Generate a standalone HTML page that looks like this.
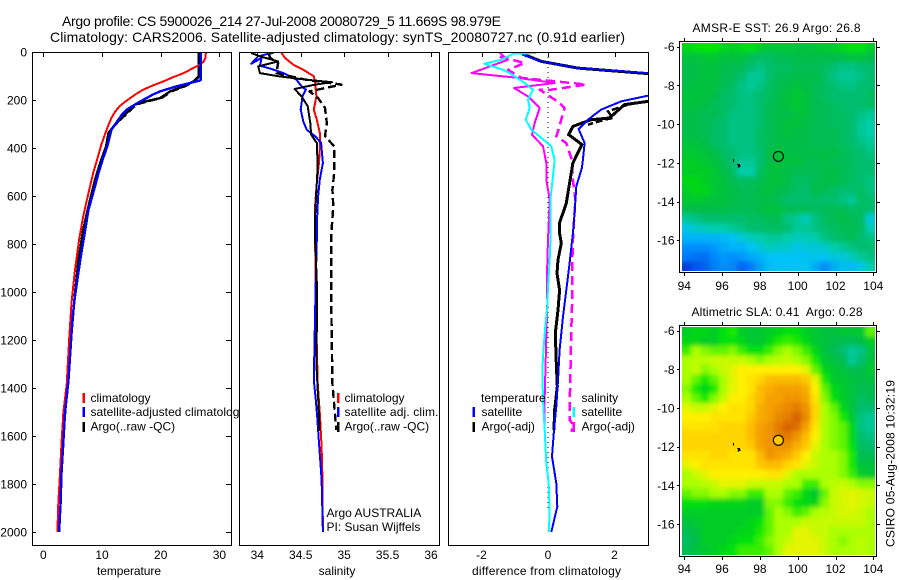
<!DOCTYPE html>
<html>
<head>
<meta charset="utf-8">
<title>Argo profile</title>
<style>
html,body{margin:0;padding:0;background:#fff;}
svg{display:block;}
text{font-family:"Liberation Sans",sans-serif;font-size:12px;fill:#000;}
.title{font-size:14px;}
</style>
</head>
<body>
<svg id="fig" xmlns="http://www.w3.org/2000/svg" width="900" height="580" viewBox="0 0 900 580">
<defs>
<clipPath id="clip-t"><rect x="33" y="53" width="198" height="492"/></clipPath>
<clipPath id="clip-s"><rect x="240" y="53" width="199" height="492"/></clipPath>
<clipPath id="clip-d"><rect x="449" y="53" width="199" height="492"/></clipPath>
<clipPath id="clip-map-sst"><rect x="682" y="43" width="193" height="228"/></clipPath>
<clipPath id="clip-map-sla"><rect x="682" y="327" width="193" height="228"/></clipPath>
<filter id="map-smooth" filterUnits="userSpaceOnUse" x="640" y="0" width="260" height="580"><feGaussianBlur stdDeviation="2.5"/></filter>
</defs>
<rect x="0" y="0" width="900" height="580" fill="#fff"/>
<text class="title" x="62" y="26" textLength="439">Argo profile: CS 5900026_214 27-Jul-2008 20080729_5 11.669S 98.979E</text>
<text class="title" x="50" y="42" textLength="575">Climatology: CARS2006. Satellite-adjusted climatology: synTS_20080727.nc (0.91d earlier)</text>

<g id="panel-t">
<rect x="32.5" y="52.5" width="199" height="493" fill="#fff"/>
<g id="marks-t" clip-path="url(#clip-t)"></g>
<rect x="32.5" y="52.5" width="199" height="493" fill="none" stroke="#000" shape-rendering="crispEdges"/>
<g id="ticks-t"></g>
<text x="129" y="575" text-anchor="middle" textLength="64">temperature</text>
<rect x="82.5" y="393" width="2.5" height="10" fill="#f00"/>
<rect x="82.5" y="407" width="2.5" height="10" fill="#00f"/>
<rect x="82.5" y="422" width="2.5" height="10" fill="#000"/>
<text x="90.5" y="402">climatology</text>
<text x="90.5" y="416" textLength="155">satellite-adjusted climatology</text>
<text x="90.5" y="430.5">Argo(..raw -QC)</text>
</g>

<g id="panel-s">
<rect x="239.5" y="52.5" width="200" height="493" fill="#fff"/>
<g id="marks-s" clip-path="url(#clip-s)"></g>
<rect x="239.5" y="52.5" width="200" height="493" fill="none" stroke="#000" shape-rendering="crispEdges"/>
<g id="ticks-s"></g>
<text x="337" y="575" text-anchor="middle">salinity</text>
<rect x="337" y="393" width="2.5" height="10" fill="#f00"/>
<rect x="337" y="407" width="2.5" height="10" fill="#00f"/>
<rect x="337" y="422" width="2.5" height="10" fill="#000"/>
<text x="344.5" y="402">climatology</text>
<text x="344.5" y="416" textLength="94">satellite adj. clim.</text>
<text x="344.5" y="430.5">Argo(..raw -QC)</text>
<text x="326.5" y="517">Argo AUSTRALIA</text>
<text x="326.5" y="531">PI: Susan Wijffels</text>
</g>

<g id="panel-d">
<rect x="448.5" y="52.5" width="200" height="493" fill="#fff"/>
<g id="marks-d" clip-path="url(#clip-d)"></g>
<rect x="448.5" y="52.5" width="200" height="493" fill="none" stroke="#000" shape-rendering="crispEdges"/>
<g id="ticks-d"></g>
<text x="546.5" y="575" text-anchor="middle" textLength="149">difference from climatology</text>
<text x="481" y="402">temperature</text>
<rect x="472.5" y="407" width="2.5" height="10" fill="#00f"/>
<rect x="472.5" y="422" width="2.5" height="10" fill="#000"/>
<text x="481.5" y="416">satellite</text>
<text x="481.5" y="430.5">Argo(-adj)</text>
<text x="581.5" y="402">salinity</text>
<rect x="572.5" y="407" width="2.5" height="10" fill="#0ff"/>
<rect x="572.5" y="422" width="2.5" height="10" fill="#f0f"/>
<text x="581.5" y="416">satellite</text>
<text x="581.5" y="430.5">Argo(-adj)</text>
</g>

<g id="map-sst"></g>
<text x="692.5" y="32" textLength="168">AMSR-E SST: 26.9 Argo: 26.8</text>
<g id="map-sla"></g>
<text x="691.5" y="316" textLength="171" xml:space="preserve">Altimetric SLA: 0.41  Argo: 0.28</text>
<text x="0" y="0" transform="translate(894.5,547) rotate(-90)" textLength="167">CSIRO 05-Aug-2008 10:32:19</text>
</svg>

<script>
// ---- tick labels ----
const depthTicks = [0,200,400,600,800,1000,1200,1400,1600,1800,2000];
const tempTicks = [0,10,20,30];
const salTicks = [34,34.5,35,35.5,36];
const diffTicks = [-2,0,2];
const lonTicks = [94,96,98,100,102,104];
const latTicks = [-6,-8,-10,-12,-14,-16];

// ---- temperature panel ----
const tempClimDepth = [4,25,40,53,70,88,105,122,140,157,175,192,210,226,250,275,310,344,385,428,504,587,685,782,907,1046,1200,1380,1505,1630,1755,1880,2000];
const tempClimValue = [27.7,27.6,27.3,26.7,25.3,23.9,22.1,20.5,18.6,17,15.8,14.8,13.8,13,12.2,11.6,11,10.5,9.9,9.4,8.5,7.7,6.8,6.1,5.4,4.8,4.4,4.0,3.4,3.1,2.85,2.55,2.4];
const tempSatDepth = [0,118,129,143,164,178,192,205,219,240,260,282,324,393,449,505,560,657,747,865,1018,1101,1367,1505,1630,1755,1880,2000];
const tempSatValue = [26.8,26.8,25,22.7,19.9,18.6,17.6,16.6,15.6,14.2,13.4,12.8,11.6,10.9,10.1,9.4,8.8,7.7,7.1,6.3,5.4,5.0,4.3,3.7,3.4,3.1,2.95,2.7];
const tempArgoDepth = [4,101,122,143,164,192,205,219,268,303,337,393,462,532,643,740,865,1004,1200,1410,1580];
const tempArgoValue = [26.5,26.5,25.6,23.9,21.6,19.9,17.6,15.6,13.6,12.2,11.1,10.7,9.7,8.8,7.7,6.8,6,5.4,4.7,4,3.5];
const tempArgoRawValue = [26.6,26.6,25.8,24.2,21.9,20.2,18,15.9,13.8,12.3,11.2,10.8,9.8,8.9,7.8,6.9,6.1,5.4,4.7,4,3.5];

// ---- salinity panel ----
const salClimDepth = [4,25,53,74,101,129,185,240,282,337,407,462,546,643,726,1000,1380,1505,1644,1770,2000];
const salClimValue = [34.28,34.32,34.415,34.53,34.65,34.665,34.68,34.65,34.685,34.72,34.72,34.71,34.685,34.665,34.665,34.67,34.695,34.72,34.74,34.75,34.755];
const salSatDepth = [4,7,18,49,25,57,71,88,115,143,157,185,240,289,324,351,379,462,532,601,685,782,1000,1367,1436,1519,1630,1727,1783,2000];
const salSatValue = [34.185,34.13,34.01,33.93,34.05,34.03,34.165,34.3,34.45,34.51,34.56,34.52,34.5,34.53,34.57,34.665,34.735,34.755,34.72,34.7,34.69,34.685,34.67,34.65,34.67,34.69,34.71,34.73,34.74,34.755];
const salArgoDepth = [4,18,39,60,88,101,115,126,136,154,185,226,296,344,379,476,574,685,782,1000,1300,1580];
const salArgoValue = [33.93,34.03,34.24,34.01,34.03,34.24,34.55,34.86,34.665,34.43,34.51,34.58,34.61,34.62,34.685,34.695,34.68,34.665,34.665,34.69,34.68,34.72];
const salRawDepth = [7,25,46,88,115,136,164,192,233,296,351,393,504,574,643,768,1000,1380,1491,1575];
const salRawValue = [34.13,34.15,34.24,34.22,34.55,34.97,34.6,34.7,34.78,34.8,34.78,34.885,34.885,34.865,34.875,34.85,34.85,34.865,34.89,34.91];

// ---- difference panel ----
const diffTempSatDepth = [11,39,67,88,130,182,206,240,282,321,379,449,483,560,671,755,880,992,1103,1242,1367,1478,1575,1686,1797,1894,2000];
const diffTempSatValue = [-0.78,-0.2,0.9,3,6,3,2.2,1.6,1.2,0.92,1.1,1.05,1.02,0.85,0.8,0.75,0.65,0.55,0.45,0.35,0.3,0.25,0.18,0.12,0.25,0.28,0.1];
const diffTempArgoDepth = [7,39,67,90,130,206,219,275,282,310,344,386,462,546,629,712,755,797,866,922,992,1075,1172,1297,1394,1492,1575];
const diffTempArgoValue = [-0.78,-0.2,0.9,3,6,3,2.3,1.85,1.3,0.75,0.62,1.02,0.75,0.65,0.55,0.35,0.35,0.4,0.3,0.27,0.35,0.3,0.22,0.25,0.28,0.2,0.18];
const diffRawDepth = [206,219,233,247,275,282,303];
const diffRawValue = [3,2.4,2.1,1.8,1.95,1.7,1.2];
const diffSalArgoDepth = [4,32,88,108,129,150,185,233,296,344,393,462,532,615,782,922,1047,1186,1283,1436,1575];
const diffSalArgoValue = [-1.45,-1.2,-2.3,-0.9,0.2,-1.02,-0.6,-0.25,-0.4,-0.48,-0.15,-0.05,-0.05,0.05,0,-0.03,-0.02,-0.05,-0.07,-0.1,-0.1];
const diffSalRawDepth = [20,46,74,108,129,136,157,157,212,233,330,351,379,449,532,615,782,880,1019,1158,1297,1436,1533,1554,1582];
const diffSalRawValue = [-1.45,-0.7,-1.2,-0.8,0.7,1.15,0.1,-0.25,0.35,0.5,0.3,0.25,0.55,0.72,0.75,0.82,0.75,0.73,0.73,0.7,0.68,0.66,0.65,0.77,0.7];
const diffSalSatDepth = [4,7,32,49,74,88,129,157,199,233,282,324,358,393,449,518,601,755,866,977,1061,1144,1228,1325,1450,1575,1714,1797,1922,2000];
const diffSalSatValue = [-0.35,-1.05,-1.4,-1.92,-1.35,-1.15,-0.7,-0.45,-0.6,-0.55,-0.67,-0.5,-0.2,0.1,0.2,0.15,0.08,0.08,0.05,0,-0.02,-0.08,-0.13,-0.17,-0.15,-0.1,-0.05,0.02,0.05,0.02];
const diffZeroDepth = [0,1900];
const diffZeroValue = [0,0];

// ---- map fields (colour-scale level per cell, rows north to south) ----
const sstField = [
[60,62,63,63,60,58,60,62,58,55,55,55,54,54,55,56,58,60,62,62,58],
[54,54,56,56,54,54,54,50,48,48,50,50,52,52,52,52,52,52,54,54,52],
[52,52,54,54,52,50,50,46,44,46,48,48,50,50,50,48,46,44,44,46,46],
[52,52,54,54,50,50,46,42,42,46,50,50,52,52,52,48,44,42,42,44,46],
[52,54,54,54,50,48,44,42,44,48,50,52,54,52,50,48,46,44,44,46,46],
[54,54,54,52,48,46,44,44,46,48,52,54,56,54,50,48,46,46,46,46,48],
[54,54,52,50,48,46,44,44,46,50,52,54,56,54,50,50,48,46,46,46,48],
[52,52,50,50,48,44,44,44,46,50,52,52,54,54,50,50,48,48,46,44,42],
[52,52,50,48,46,44,44,44,46,50,52,54,54,52,50,50,48,48,46,42,40],
[52,52,50,48,46,44,44,44,48,50,52,54,52,52,50,50,50,48,46,42,40],
[54,54,52,48,46,44,44,44,48,50,52,52,52,52,50,50,50,48,46,44,42],
[56,56,54,52,48,46,44,44,46,52,54,52,52,52,52,52,52,50,48,46,44],
[58,58,56,54,50,46,42,42,46,52,54,54,54,52,50,52,50,50,48,46,46],
[58,58,58,56,52,48,40,40,48,54,54,52,50,50,50,52,52,50,48,46,46],
[60,60,58,56,54,50,48,48,50,54,54,52,48,48,50,52,52,50,48,46,44],
[58,60,60,56,54,52,50,50,52,54,52,50,48,46,52,50,48,46,46,48,44],
[56,56,56,54,54,52,50,50,52,52,50,46,46,46,48,46,46,44,42,48,46],
[52,52,52,52,52,50,50,50,52,54,54,50,50,50,48,50,50,50,48,48,46],
[42,44,46,46,46,46,46,48,48,50,50,44,42,38,44,48,50,52,50,48,34],
[32,36,38,40,40,42,44,46,46,48,48,46,42,42,44,46,48,50,50,48,38],
[26,26,26,26,28,30,34,38,40,42,42,40,38,38,40,44,46,48,50,46,44],
[18,18,18,20,24,26,26,30,34,38,36,36,32,34,34,36,40,42,44,46,46],
[14,12,12,16,20,18,20,24,26,30,30,30,30,30,32,30,34,34,38,42,44],
[4,8,10,14,18,16,10,14,22,28,30,30,30,30,24,18,24,28,28,32,40]
];
const slaField = [
[58,60,60,58,62,64,58,56,56,58,60,62,62,58,56,54,54,56,56,56,68],
[60,60,58,58,62,62,60,56,56,60,64,66,64,60,56,54,52,50,50,52,58],
[66,72,70,68,68,70,66,62,62,66,70,72,70,66,60,54,50,46,42,44,54],
[72,73,73,74,74,74,74,72,70,72,73,74,72,70,64,56,54,50,42,46,54],
[72,74,70,72,74,76,78,78,78,78,78,78,78,76,68,60,56,54,50,52,56],
[72,68,64,68,72,76,78,80,82,86,86,86,86,84,76,64,57,56,54,52,54],
[70,64,60,64,72,76,78,80,86,88,90,90,90,88,78,68,60,57,54,50,52],
[72,68,64,70,74,78,78,82,86,90,90,92,92,90,80,70,62,58,54,48,50],
[76,74,74,76,78,80,80,82,88,90,92,94,96,92,82,72,68,60,54,46,46],
[78,78,78,80,80,80,80,84,88,90,94,96,100,94,82,72,70,64,56,44,42],
[80,80,80,80,82,82,82,86,90,92,96,100,98,90,80,72,70,68,60,44,42],
[82,82,82,82,82,82,82,86,90,92,96,96,92,86,78,72,70,68,60,46,44],
[82,82,82,82,82,82,82,84,90,92,92,92,88,84,76,72,70,68,62,48,46],
[80,80,80,82,82,80,80,80,86,92,90,88,84,78,74,72,72,70,64,50,50],
[76,78,80,80,80,80,80,80,84,86,86,82,80,76,74,72,72,70,64,54,54],
[72,74,76,78,78,78,78,78,78,80,80,76,72,72,72,72,72,70,66,58,56],
[72,72,73,74,76,76,76,74,74,74,74,72,72,66,66,72,73,74,72,70,70],
[68,70,70,72,72,70,70,66,66,72,72,68,66,60,56,68,74,75,76,75,74],
[62,62,62,60,60,60,60,58,58,70,70,66,62,60,60,70,74,75,76,75,74],
[58,58,58,58,58,58,58,58,58,68,72,70,66,68,72,73,74,75,75,74,72],
[54,56,58,58,58,58,58,60,62,68,72,72,72,74,74,74,74,74,74,74,72],
[50,54,58,58,58,58,60,60,64,68,72,72,76,76,74,74,72,72,72,72,72],
[48,52,58,58,58,60,62,62,66,70,72,74,76,76,76,74,72,70,72,73,72],
[50,54,56,58,60,62,66,66,66,68,72,76,76,76,76,74,72,72,72,73,72]
];
const floatLon = [98.979];
const floatLat = [-11.669];
const floatSlaLevel = [84];
const islandALon = [96.6,96.6];
const islandALat = [-11.8,-11.95];
const islandBLon = [96.8,96.92,96.95,96.85,96.9];
const islandBLat = [-12.08,-12.1,-12.2,-12.22,-12.12];

// ---- scales ----
const NS = 'http://www.w3.org/2000/svg';
const yDepth = d => 52 + d * 0.24;
const xTemp = v => 43.3 + v * 5.87;
const xSal = v => 257.3 + (v - 34) * 86.85;
const xDiff = v => 548 + v * 33.25;
const xLon = v => 684.3 + (v - 94) * 18.9;
const ySst = v => 46.7 + (-6 - v) * 19.35;
const ySla = v => 330.7 + (-6 - v) * 19.33;

function make(tag, parent, attrs, text) {
  const el = document.createElementNS(NS, tag);
  for (const k in attrs) el.setAttribute(k, attrs[k]);
  if (text !== undefined) el.textContent = text;
  parent.appendChild(el);
  return el;
}
function seriesLine(parent, depth, value, xf, color, width, dash) {
  const pts = depth.map((d, i) => xf(value[i]).toFixed(1) + ',' + yDepth(d).toFixed(1)).join(' ');
  const attrs = {points: pts, fill: 'none', stroke: color, 'stroke-width': width, 'shape-rendering': 'crispEdges', 'stroke-linejoin': 'round'};
  if (dash) attrs['stroke-dasharray'] = dash;
  return make('polyline', parent, attrs);
}
function addLine(parent, x1, y1, x2, y2) {
  return make('line', parent, {x1: x1, y1: y1, x2: x2, y2: y2, stroke: '#000', 'shape-rendering': 'crispEdges'});
}

// ---- temperature series ----
const gT = document.getElementById('marks-t');
let el = seriesLine(gT, tempArgoDepth, tempArgoRawValue, xTemp, '#000', 2, '8 4');


el = seriesLine(gT, tempArgoDepth, tempArgoValue, xTemp, '#000', 2.4);


el = seriesLine(gT, tempClimDepth, tempClimValue, xTemp, '#f00', 2);


el = seriesLine(gT, tempSatDepth, tempSatValue, xTemp, '#00f', 2.4);



// ---- salinity series ----
const gS = document.getElementById('marks-s');
el = seriesLine(gS, salClimDepth, salClimValue, xSal, '#f00', 2);


el = seriesLine(gS, salSatDepth, salSatValue, xSal, '#00f', 2);


el = seriesLine(gS, salArgoDepth, salArgoValue, xSal, '#000', 2);


el = seriesLine(gS, salRawDepth, salRawValue, xSal, '#000', 2.4, '8 4');



// ---- difference series ----
const gD = document.getElementById('marks-d');
el = seriesLine(gD, diffZeroDepth, diffZeroValue, xDiff, '#000', 1, '1 4');


el = seriesLine(gD, diffSalArgoDepth, diffSalArgoValue, xDiff, '#f0f', 2);


el = seriesLine(gD, diffSalRawDepth, diffSalRawValue, xDiff, '#f0f', 2.5, '9 5');


el = seriesLine(gD, diffTempArgoDepth, diffTempArgoValue, xDiff, '#000', 3);


el = seriesLine(gD, diffRawDepth, diffRawValue, xDiff, '#000', 2.5, '7 3');


el = seriesLine(gD, diffTempSatDepth, diffTempSatValue, xDiff, '#00f', 2);


el = seriesLine(gD, diffSalSatDepth, diffSalSatValue, xDiff, '#0ff', 2);



// ---- profile axes ticks ----
const tT = document.getElementById('ticks-t');
depthTicks.forEach(d => {
  const y = Math.round(yDepth(d)) + 0.5;
  let t = addLine(tT, 226, y, 231, y);
  
  
  t = addLine(tT, 33, y, 36, y);
  
  
  t = make('text', tT, {x: 27, y: yDepth(d) + 4.5, 'text-anchor': 'end'}, String(d));
  
  
});
function xAxisTicks(id, ticks, xf) {
  const g = document.getElementById(id);
  ticks.forEach(v => {
    const x = Math.round(xf(v)) + 0.5;
    let t = addLine(g, x, 53, x, 57);
    
    
    t = make('text', g, {x: xf(v), y: 559, 'text-anchor': 'middle'}, String(v));
    
    
  });
}
xAxisTicks('ticks-t', tempTicks, xTemp);
xAxisTicks('ticks-s', salTicks, xSal);
xAxisTicks('ticks-d', diffTicks, xDiff);

// ---- maps ----
function levelColor(v) {
  const s = [[0,0,40,200],[15,0,130,255],[30,0,195,245],[40,0,205,170],[46,0,190,110],[52,0,190,70],[58,0,205,40],[63,0,230,0],[72,170,255,0],[78,255,240,0],[84,255,200,0],[90,245,160,0],[100,215,100,0]];
  for (let i = 1; i < s.length; i++) {
    if (v <= s[i][0]) {
      const f = (v - s[i-1][0]) / (s[i][0] - s[i-1][0]);
      const c = [1,2,3].map(k => Math.round(s[i-1][k] + f * (s[i][k] - s[i-1][k])));
      return 'rgb(' + c.join(',') + ')';
    }
  }
  return 'rgb(215,100,0)';
}
function drawMap(id, clipId, field, yf, top, bottom, labelY, circleFill) {
  const g = document.getElementById(id);
  const left = 682, right = 875, imgTop = top + 2, imgBot = bottom - 1;
  const nr = field.length, nc = field[0].length;
  const cw = (right - left) / nc, ch = (imgBot - imgTop) / nr;
  const pad = 14;
  const clip = make('g', g, {'clip-path': 'url(#' + clipId + ')'});
  
  
  const cells = make('g', clip, {filter: 'url(#map-smooth)'});
  
  
  field.forEach((row, r) => row.forEach((v, c) => {
    const x0 = left + c * cw - (c === 0 ? pad : 0);
    const y0 = imgTop + r * ch - (r === 0 ? pad : 0);
    const x1 = left + (c + 1) * cw + (c === nc - 1 ? pad : 0.5);
    const y1 = imgTop + (r + 1) * ch + (r === nr - 1 ? pad : 0.5);
    const cell = make('rect', cells, {x: x0, y: y0, width: x1 - x0, height: y1 - y0, fill: levelColor(v)});
    
    
  }));
  const frame = make('rect', g, {x: 679.5, y: top + 0.5, width: 197, height: bottom - top, fill: 'none', stroke: '#000', 'shape-rendering': 'crispEdges'});
  
  
  lonTicks.forEach(v => {
    const x = Math.round(xLon(v)) + 0.5;
    let t = addLine(g, x, top - 3, x, top);
    
    
    t = addLine(g, x, bottom + 1, x, bottom + 4);
    
    
    t = make('text', g, {x: xLon(v), y: labelY, 'text-anchor': 'middle'}, String(v));
    
    
  });
  latTicks.forEach(v => {
    const y = Math.round(yf(v)) + 0.5;
    let t = addLine(g, 677, y, 680, y);
    
    
    t = addLine(g, 877, y, 880, y);
    
    
    t = make('text', g, {x: 674.5, y: yf(v) + 4.5, 'text-anchor': 'end'}, String(v));
    
    
  });
  const a = make('polyline', g, {points: islandALon.map((v, i) => xLon(v) + ',' + yf(islandALat[i])).join(' '), fill: 'none', stroke: '#000', 'shape-rendering': 'crispEdges'});
  
  
  const b = make('polyline', g, {points: islandBLon.map((v, i) => xLon(v) + ',' + yf(islandBLat[i])).join(' '), fill: 'none', stroke: '#000', 'shape-rendering': 'crispEdges'});
  
  
  const c = make('circle', g, {cx: xLon(floatLon[0]), cy: yf(floatLat[0]), r: 5, fill: circleFill, stroke: '#000', 'stroke-width': 1.1});
  
  
}
drawMap('map-sst', 'clip-map-sst', sstField, ySst, 41, 272, 290, 'none');
drawMap('map-sla', 'clip-map-sla', slaField, ySla, 325, 556, 573, levelColor(floatSlaLevel[0]));
</script>
</body>
</html>
